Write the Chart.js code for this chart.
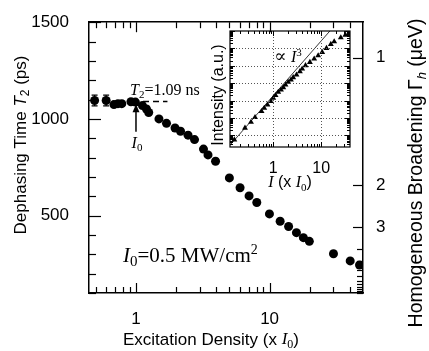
<!DOCTYPE html>
<html>
<head>
<meta charset="utf-8">
<script src="https://cdn.jsdelivr.net/npm/chart.js@4.4.0/dist/chart.umd.min.js"></script>
<style>
  html, body { margin: 0; padding: 0; background: #fff; }
  #wrap { position: relative; width: 429px; height: 351px; }
  #main { position: absolute; left: 0; top: 0; }
  #inset { position: absolute; left: 200px; top: 20px; }
</style>
</head>
<body>
<div id="wrap">
  <canvas id="main" width="429" height="351"></canvas>
  <canvas id="inset" width="160" height="175"></canvas>
</div>
<script>
// ---- main panel data: dephasing time vs excitation density ----
const density = [0.49, 0.598, 0.684, 0.733, 0.783, 0.917, 0.99, 1.118, 1.198, 1.245,
  1.486, 1.692, 1.96, 2.155, 2.453, 2.742, 3.2, 3.46, 3.94, 5.0,
  6.01, 7.02, 8.02, 9.97, 11.99, 13.87, 15.88, 17.9, 19.83, 30.06,
  40.1, 47.1];
const dephasing = [1095, 1095, 1074, 1079, 1079, 1089, 1087, 1069, 1051, 1033,
  1000, 977, 953, 936, 916, 893, 844, 814, 781, 695,
  644, 602, 568, 509, 471, 444, 412, 386, 367, 303,
  266, 245];
const dephasingErr = [28, 28];          // error bars on the first points only
const plateauX = [0.95, 1.72];          // dashed T2 = 1.09 ns level
const plateauY = [1090, 1090];

const xTickVals = [0.5, 0.6, 0.7, 0.8, 0.9, 1, 2, 3, 4, 5, 6, 7, 8, 9, 10, 20, 30, 40];
const xLabeled = [1, 10];
const yTickVals = [100, 200, 300, 400, 500, 600, 700, 800, 900, 1000, 1100, 1200, 1300, 1400, 1500];
const yLabeled = [500, 1000, 1500];
const gammaTicks = [1, 2, 3, 4, 5, 6, 7, 8, 9, 10, 11, 12, 13];
const gammaLabeled = [1, 2, 3];
const HBAR2 = 1316; // 2*hbar in ueV*ps, Gamma = HBAR2 / T2

// ---- inset data: intensity vs I ----
const insetI = [0.154, 0.257, 0.343, 0.416, 0.570, 0.649, 0.760, 0.896, 1.0, 1.117,
  1.27, 1.45, 1.62, 1.80, 2.05, 2.34, 2.61, 3.06, 3.60, 4.02,
  4.71, 5.82, 7.15, 8.66, 10.5, 12.9, 15.9, 18.7, 25.7, 32.1];
const insetIntensity = [0.557, 2.62, 5.78, 10.8, 23.8, 36.7, 56.8, 89, 138, 197,
  304, 412, 566, 798, 1140, 1545, 2120, 2990, 4690, 6600,
  10350, 16000, 24770, 38800, 60000, 101600, 172600, 246600, 418000, 590000];
const cubeLineX = [0.1155, 15.2];
const cubeLineY = [0.212, 1e6];
const insetXTicks = [0.2, 0.3, 0.4, 0.5, 0.6, 0.7, 0.8, 0.9, 1, 2, 3, 4, 5, 6, 7, 8, 9, 10, 20, 30];
const insetXLabeled = [1, 10];
const insetDecadesX = [1, 10];
const insetDecadesY = [1, 10, 100, 1000, 10000, 100000];

const SANS = '"Liberation Sans", Arial, sans-serif';
const SERIF = '"Liberation Serif", "DejaVu Serif", "Times New Roman", serif';

Chart.defaults.font.family = SANS;
Chart.defaults.color = '#000';

// draw a line of mixed-style text pieces
function drawRich(ctx, segs, x, y, align) {
  let w = 0;
  segs.forEach(s => { ctx.font = s.font; w += ctx.measureText(s.text).width; });
  let cx = align === 'center' ? x - w / 2 : x;
  segs.forEach(s => {
    ctx.font = s.font;
    ctx.fillText(s.text, cx, y + (s.dy || 0));
    cx += ctx.measureText(s.text).width;
  });
}

// ticks pointing into the plot area
function drawInward(chart, specs) {
  const ctx = chart.ctx;
  const a = chart.chartArea;
  ctx.save();
  ctx.strokeStyle = '#000';
  ctx.lineWidth = specs.width || 1;
  specs.axes.forEach(sp => {
    const s = chart.scales[sp.id];
    sp.values.forEach(v => {
      const len = sp.isMajor(v) ? sp.major : sp.minor;
      const p = Math.round(s.getPixelForValue(v)) + 0.5;
      ctx.beginPath();
      if (sp.side === 'bottom') { ctx.moveTo(p, a.bottom); ctx.lineTo(p, a.bottom - len); }
      if (sp.side === 'top') { ctx.moveTo(p, a.top); ctx.lineTo(p, a.top + len); }
      if (sp.side === 'left') { ctx.moveTo(a.left, p); ctx.lineTo(a.left + len, p); }
      if (sp.side === 'right') { ctx.moveTo(a.right, p); ctx.lineTo(a.right - len, p); }
      ctx.stroke();
    });
  });
  ctx.restore();
}

const mainDecor = {
  id: 'mainDecor',
  afterDatasetsDraw(chart) {
    const ctx = chart.ctx;
    const xs = chart.scales.x, ys = chart.scales.y;
    drawInward(chart, {
      width: 1.2,
      axes: [
        { id: 'x', side: 'bottom', values: xTickVals, isMajor: v => xLabeled.includes(v), major: 10, minor: 6 },
        { id: 'x2', side: 'top', values: xTickVals, isMajor: v => xLabeled.includes(v), major: 10, minor: 6 },
        { id: 'y', side: 'left', values: yTickVals, isMajor: v => yLabeled.includes(v), major: 12, minor: 7 },
        { id: 'y2', side: 'right', values: gammaTicks.map(g => HBAR2 / g), isMajor: v => gammaLabeled.includes(Math.round(HBAR2 / v)), major: 10, minor: 6 }
      ]
    });

    // error bars
    ctx.save();
    ctx.strokeStyle = '#000';
    ctx.lineWidth = 1.2;
    dephasingErr.forEach((e, i) => {
      const px = xs.getPixelForValue(density[i]);
      const top = ys.getPixelForValue(dephasing[i] + e);
      const bot = ys.getPixelForValue(dephasing[i] - e);
      ctx.beginPath();
      ctx.moveTo(px, top); ctx.lineTo(px, bot);
      ctx.moveTo(px - 3, top); ctx.lineTo(px + 3, top);
      ctx.moveTo(px - 3, bot); ctx.lineTo(px + 3, bot);
      ctx.stroke();
    });

    // arrow marking I0
    const ax = xs.getPixelForValue(1);
    const tip = ys.getPixelForValue(1076);
    const tail = ys.getPixelForValue(934);
    ctx.lineWidth = 1.5;
    ctx.beginPath(); ctx.moveTo(ax, tail); ctx.lineTo(ax, tip + 6); ctx.stroke();
    ctx.fillStyle = '#000';
    ctx.beginPath(); ctx.moveTo(ax, tip); ctx.lineTo(ax - 3.5, tip + 8); ctx.lineTo(ax + 3.5, tip + 8); ctx.closePath(); ctx.fill();

    // annotations
    ctx.textBaseline = 'alphabetic';
    drawRich(ctx, [
      { text: 'T', font: 'italic 16px ' + SERIF },
      { text: '2', font: '11px ' + SERIF, dy: 3 },
      { text: '=1.09 ns', font: '16px ' + SERIF }
    ], xs.getPixelForValue(0.902), ys.getPixelForValue(1122), 'left');
    drawRich(ctx, [
      { text: 'I', font: 'italic 16px ' + SERIF },
      { text: '0', font: '11px ' + SERIF, dy: 3 }
    ], ax + 1, ys.getPixelForValue(852), 'center');
    drawRich(ctx, [
      { text: 'I', font: 'italic 21px ' + SERIF },
      { text: '0', font: '15px ' + SERIF, dy: 4 },
      { text: '=0.5 MW/cm', font: '21px ' + SERIF },
      { text: '2', font: '14px ' + SERIF, dy: -8 }
    ], xs.getPixelForValue(0.8), ys.getPixelForValue(260), 'left');

    // axis titles
    ctx.textBaseline = 'middle';
    drawRich(ctx, [
      { text: 'Excitation Density (x ', font: '17px ' + SANS },
      { text: 'I', font: 'italic 17px ' + SERIF },
      { text: '0', font: '12px ' + SERIF, dy: 5 },
      { text: ')', font: '17px ' + SANS }
    ], 211, 340, 'center');

    ctx.save();
    ctx.translate(21, 145);
    ctx.rotate(-Math.PI / 2);
    drawRich(ctx, [
      { text: 'Dephasing Time ', font: '17px ' + SANS },
      { text: 'T', font: 'italic 17px ' + SANS },
      { text: '2', font: '12px ' + SANS, dy: 5 },
      { text: ' (ps)', font: '17px ' + SANS }
    ], 0, 0, 'center');
    ctx.restore();

    ctx.save();
    ctx.translate(417, 173);
    ctx.rotate(-Math.PI / 2);
    drawRich(ctx, [
      { text: 'Homogeneous Broadening ', font: '19.5px ' + SANS },
      { text: 'Γ', font: '19.5px ' + SANS },
      { text: 'h', font: 'italic 13px ' + SANS, dy: 5 },
      { text: ' (μeV)', font: '19.5px ' + SANS }
    ], 0, 0, 'center');
    ctx.restore();

    ctx.restore();
  }
};

const frameOpts = { display: true, color: '#000', width: 1.5 };

new Chart(document.getElementById('main'), {
  type: 'scatter',
  data: {
    datasets: [
      {
        data: density.map((x, i) => ({ x: x, y: dephasing[i] })),
        pointRadius: 4.5,
        pointStyle: 'circle',
        backgroundColor: '#000',
        borderColor: '#000',
        borderWidth: 0
      },
      {
        type: 'line',
        data: plateauX.map((x, i) => ({ x: x, y: plateauY[i] })),
        borderColor: '#000',
        borderWidth: 1.5,
        borderDash: [6, 4],
        pointRadius: 0,
        fill: false
      }
    ]
  },
  options: {
    responsive: false,
    animation: false,
    devicePixelRatio: 1,
    layout: { padding: 0 },
    plugins: { legend: { display: false }, tooltip: { enabled: false } },
    scales: {
      x: {
        type: 'logarithmic', position: 'bottom', min: 0.445, max: 50,
        afterBuildTicks: s => { s.ticks = xTickVals.map(v => ({ value: v })); },
        afterFit: s => { s.height = 58; },
        grid: { display: false },
        border: frameOpts,
        ticks: {
          autoSkip: false, maxRotation: 0, padding: 8, font: { size: 17 }, color: '#000',
          callback: v => xLabeled.includes(v) ? String(v) : ''
        }
      },
      x2: {
        type: 'logarithmic', position: 'top', min: 0.445, max: 50,
        afterBuildTicks: s => { s.ticks = xTickVals.map(v => ({ value: v })); },
        afterFit: s => { s.height = 19; },
        grid: { display: false },
        border: frameOpts,
        ticks: { display: false }
      },
      y: {
        type: 'linear', position: 'left', min: 100, max: 1500,
        afterBuildTicks: s => { s.ticks = yTickVals.map(v => ({ value: v })); },
        afterFit: s => { s.width = 89; },
        grid: { display: false },
        border: frameOpts,
        ticks: {
          autoSkip: false, padding: 12, font: { size: 17 }, color: '#000',
          callback: v => yLabeled.includes(v) ? String(v) : ''
        }
      },
      y2: {
        type: 'linear', position: 'right', min: 100, max: 1500,
        afterBuildTicks: s => { s.ticks = gammaTicks.map(g => ({ value: HBAR2 / g })); },
        afterFit: s => { s.width = 66; },
        grid: { display: false },
        border: frameOpts,
        ticks: {
          autoSkip: false, padding: 5, font: { size: 17 }, color: '#000',
          callback: v => {
            const g = Math.round(HBAR2 / v);
            return gammaLabeled.includes(g) ? String(g) : '';
          }
        }
      }
    }
  },
  plugins: [mainDecor]
});

// ---- inset ----
function insetYTickVals() {
  const out = [];
  for (let d = 0.1; d <= 1e6; d *= 10) {
    for (let k = 1; k <= 9; k++) {
      const v = d * k;
      if (v >= 0.212 && v <= 1e6) out.push(v);
    }
  }
  return out;
}

const insetDecor = {
  id: 'insetDecor',
  afterDatasetsDraw(chart) {
    const ctx = chart.ctx;
    const a = chart.chartArea;
    const xs = chart.scales.x, ys = chart.scales.y;
    // dotted decade grid
    ctx.save();
    ctx.strokeStyle = '#555';
    ctx.lineWidth = 1;
    ctx.setLineDash([1, 2]);
    insetDecadesX.forEach(v => {
      const p = Math.round(xs.getPixelForValue(v)) + 0.5;
      ctx.beginPath(); ctx.moveTo(p, a.top); ctx.lineTo(p, a.bottom); ctx.stroke();
    });
    insetDecadesY.forEach(v => {
      const p = Math.round(ys.getPixelForValue(v)) + 0.5;
      ctx.beginPath(); ctx.moveTo(a.left, p); ctx.lineTo(a.right, p); ctx.stroke();
    });
    ctx.restore();

    const yTicks = insetYTickVals();
    const isDecade = v => Math.abs(Math.log10(v) - Math.round(Math.log10(v))) < 1e-6;
    drawInward(chart, {
      width: 1,
      axes: [
        { id: 'x', side: 'bottom', values: insetXTicks, isMajor: isDecade, major: 5, minor: 3 },
        { id: 'x', side: 'top', values: insetXTicks, isMajor: isDecade, major: 5, minor: 3 },
        { id: 'y', side: 'left', values: yTicks, isMajor: isDecade, major: 5, minor: 3 },
        { id: 'y', side: 'right', values: yTicks, isMajor: isDecade, major: 5, minor: 3 }
      ]
    });

    ctx.save();
    ctx.strokeStyle = '#000';
    ctx.lineWidth = 1.2;
    ctx.strokeRect(a.left, a.top, a.right - a.left, a.bottom - a.top);

    ctx.fillStyle = '#000';
    ctx.textBaseline = 'alphabetic';
    drawRich(ctx, [
      { text: '∝ ', font: '18px ' + SERIF },
      { text: 'I', font: 'italic 16px ' + SERIF },
      { text: '3', font: '11px ' + SERIF, dy: -6 }
    ], xs.getPixelForValue(1.05), ys.getPixelForValue(17100), 'left');

    ctx.textBaseline = 'middle';
    drawRich(ctx, [
      { text: 'I', font: 'italic 16px ' + SERIF },
      { text: ' (x ', font: '16px ' + SANS },
      { text: 'I', font: 'italic 16px ' + SERIF },
      { text: '0', font: '11px ' + SERIF, dy: 5 },
      { text: ')', font: '16px ' + SANS }
    ], (a.left + a.right) / 2, 163, 'center');

    ctx.translate(19, 75);
    ctx.rotate(-Math.PI / 2);
    drawRich(ctx, [{ text: 'Intensity (a.u.)', font: '16px ' + SANS }], 0, 0, 'center');
    ctx.restore();
  }
};

new Chart(document.getElementById('inset'), {
  type: 'scatter',
  data: {
    datasets: [
      {
        data: insetI.map((x, i) => ({ x: x, y: insetIntensity[i] })),
        pointStyle: 'triangle',
        pointRadius: 3.4,
        backgroundColor: '#000',
        borderColor: '#000',
        borderWidth: 0
      },
      {
        type: 'line',
        data: cubeLineX.map((x, i) => ({ x: x, y: cubeLineY[i] })),
        borderColor: '#000',
        borderWidth: 0.8,
        pointRadius: 0,
        fill: false
      }
    ]
  },
  options: {
    responsive: false,
    animation: false,
    devicePixelRatio: 1,
    layout: { padding: { top: 11, right: 10, left: 0, bottom: 0 } },
    plugins: { legend: { display: false }, tooltip: { enabled: false } },
    scales: {
      x: {
        type: 'logarithmic', min: 0.125, max: 40,
        afterBuildTicks: s => { s.ticks = insetXTicks.map(v => ({ value: v })); },
        afterFit: s => { s.height = 48; },
        grid: { display: false },
        border: { display: false },
        ticks: {
          autoSkip: false, maxRotation: 0, padding: 4, font: { size: 16 }, color: '#000',
          callback: v => insetXLabeled.includes(v) ? String(v) : ''
        }
      },
      y: {
        type: 'logarithmic', min: 0.212, max: 1e6,
        afterFit: s => { s.width = 30; },
        grid: { display: false },
        border: { display: false },
        ticks: { display: false }
      }
    }
  },
  plugins: [insetDecor]
});
</script>
</body>
</html>
